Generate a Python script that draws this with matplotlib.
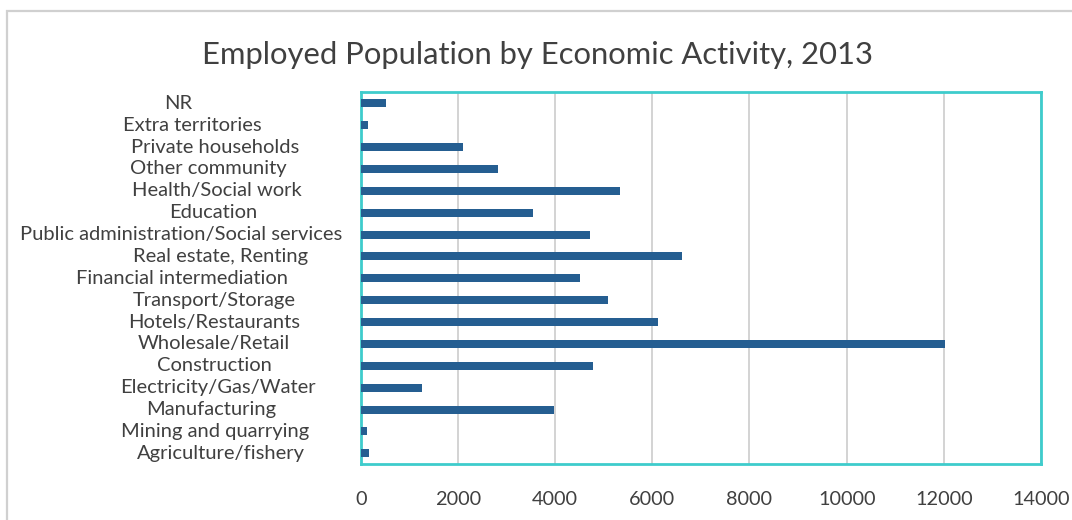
import matplotlib
matplotlib.use("Agg")
import matplotlib.pyplot as plt
import matplotlib.transforms as mtransforms
from matplotlib.patches import Rectangle

# categories listed bottom -> top, as drawn
categories = [
    "Agriculture/fishery",
    "Mining and quarrying",
    "Manufacturing",
    "Electricity/Gas/Water",
    "Construction",
    "Wholesale/Retail",
    "Hotels/Restaurants",
    "Transport/Storage",
    "Financial intermediation",
    "Real estate, Renting",
    "Public administration/Social services",
    "Education",
    "Health/Social work",
    "Other community",
    "Private households",
    "Extra territories",
    "NR",
]
employed = [165, 123, 3970, 1255, 4775, 12015, 6110, 5080, 4505,
            6605, 4710, 3540, 5330, 2820, 2100, 145, 515]
x_ticks = [0, 2000, 4000, 6000, 8000, 10000, 12000, 14000]

# Excel places the wrapped labels a bit unevenly; centre x (pixels) per label
label_centers = [221, 215, 211, 218, 214, 214, 214, 214, 182,
                 221, 181, 213, 217, 208, 215, 192, 178]

W, H = 1072, 520
fig = plt.figure(figsize=(W / 100, H / 100), dpi=100)
font = "Lato"
text_color = "#404040"

# chart frame (clipped at right/bottom like the screenshot)
fig.patches.append(Rectangle((7 / W, -0.1), 1.2, 1 - 11 / H + 0.1,
                             transform=fig.transFigure, fill=False,
                             edgecolor="#d0d0d0", linewidth=1.6))

ax = fig.add_axes([360.7 / W, 1 - 464.3 / H, (1041 - 360.7) / W, (464.3 - 92.3) / H])
ypos = list(range(len(categories)))
ax.barh(ypos, employed, height=0.365, color="#255E91", zorder=3)

ax.set_xlim(0, 14000)
ax.set_ylim(-0.5, len(categories) - 0.5)
ax.set_xticks(x_ticks)
ax.set_xticklabels([str(t) for t in x_ticks], fontsize=14.3, family=font, color=text_color)
ax.tick_params(axis="x", length=0, pad=19)
ax.set_yticks([])
ax.grid(axis="x", color="#c8c8c8", linewidth=1.1, zorder=0)
for s in ax.spines.values():
    s.set_color("#3ecccc")
    s.set_linewidth(2)

trans = mtransforms.blended_transform_factory(fig.transFigure, ax.transData)
for y, lab, cx in zip(ypos, categories, label_centers):
    fig.text(cx / W, y, lab, transform=trans, ha="center", va="center",
             fontsize=14.5, family=font, color=text_color)

fig.text(538 / W, 1 - 55 / H, "Employed Population by Economic Activity, 2013",
         ha="center", va="center", fontsize=22.3, family=font, color=text_color)

fig.savefig("out.png", dpi=100, facecolor="white")
